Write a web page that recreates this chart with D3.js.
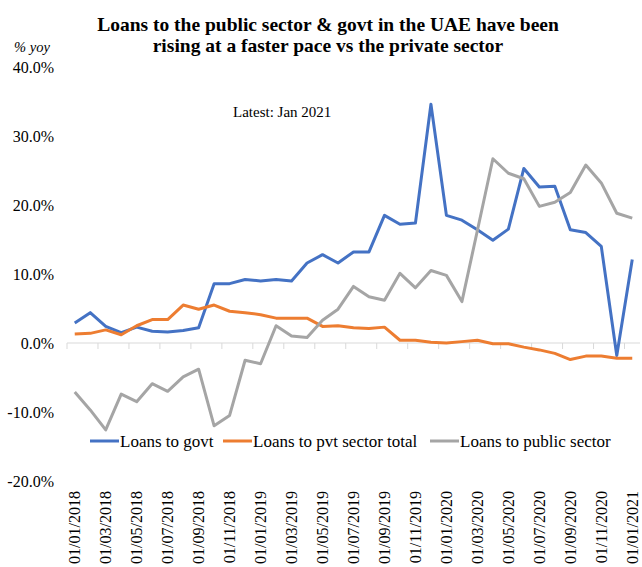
<!DOCTYPE html>
<html>
<head>
<meta charset="utf-8">
<script src="https://cdn.jsdelivr.net/npm/d3@7/dist/d3.min.js"></script>
<style>
  body { margin: 0; background: #fff; }
  svg { display: block; font-family: "Liberation Serif", "Times New Roman", serif; }
</style>
</head>
<body>
<svg id="chart" width="642" height="567"></svg>
<script>
// monthly dates, Jan 2018 .. Jan 2021
const months = [];
for (let y = 2018; y <= 2021; y++) {
  for (let m = 1; m <= 12; m++) {
    if (y === 2021 && m > 1) break;
    months.push(`01/${String(m).padStart(2, '0')}/${y}`);
  }
}

const govt = [2.9, 4.4, 2.4, 1.5, 2.3, 1.7, 1.6, 1.8, 2.2, 8.6, 8.6, 9.2, 9.0, 9.2, 9.0, 11.6, 12.8, 11.6, 13.2,
  13.2, 18.5, 17.2, 17.4, 34.6, 18.5, 17.8, 16.4, 14.9, 16.5, 25.3, 22.6, 22.7, 16.4, 16.0, 14.0, -1.8, 12.1];
const pvt = [1.3, 1.4, 1.9, 1.2, 2.5, 3.4, 3.4, 5.5, 4.9, 5.5, 4.6, 4.4, 4.1, 3.6, 3.6, 3.6, 2.4, 2.5, 2.2,
  2.1, 2.3, 0.4, 0.4, 0.1, 0.0, 0.2, 0.4, -0.1, -0.1, -0.6, -1.0, -1.5, -2.4, -1.9, -1.9, -2.2, -2.2];
const pub = [-7.1, -9.7, -12.6, -7.4, -8.5, -5.9, -7.0, -4.9, -3.8, -12.0, -10.5, -2.5, -3.0, 2.5, 1.0, 0.8, 3.3, 4.9, 8.2,
  6.7, 6.2, 10.1, 8.0, 10.5, 9.8, 6.0, 16.3, 26.7, 24.6, 23.8, 19.8, 20.4, 21.8, 25.8, 23.2, 18.8, 18.1];

const seriesNames = ['Loans to govt', 'Loans to pvt sector total', 'Loans to public sector'];
const seriesColors = ['#4472C4', '#ED7D31', '#A5A5A5'];
const yTicks = [40, 30, 20, 10, 0, -10, -20];

const svg = d3.select('#chart');

const x = d3.scaleBand().domain(months).range([67, 640]).padding(0);
const y = d3.scaleLinear().domain([-20, 40]).range([481, 67]);
const cx = d => x(d) + x.bandwidth() / 2;

// title
svg.append('text').attr('x', 328).attr('y', 31).attr('text-anchor', 'middle')
  .style('font-weight', 'bold').style('font-size', '19.5px')
  .text('Loans to the public sector & govt in the UAE have been');
svg.append('text').attr('x', 328).attr('y', 52).attr('text-anchor', 'middle')
  .style('font-weight', 'bold').style('font-size', '19.5px')
  .text('rising at a faster pace vs the private sector');

svg.append('text').attr('x', 32).attr('y', 52).attr('text-anchor', 'middle')
  .style('font-style', 'italic').style('font-size', '14.5px').text('% yoy');

// y labels
svg.append('g').selectAll('text').data(yTicks).enter().append('text')
  .attr('x', 54).attr('y', d => y(d)).attr('dy', '0.35em').attr('text-anchor', 'end')
  .style('font-size', '16px').text(d => d.toFixed(1) + '%');

// zero axis with tick marks between categories
const axis = svg.append('g').attr('transform', `translate(0,${y(0)})`);
axis.append('line').attr('x1', 67).attr('x2', 640).attr('stroke', '#d9d9d9').attr('stroke-width', 1);
axis.selectAll('.tk').data(months.filter((d, i) => i % 2 === 0)).enter().append('line')
  .attr('x1', d => x(d)).attr('x2', d => x(d)).attr('y1', 0).attr('y2', 6)
  .attr('stroke', '#d9d9d9').attr('stroke-width', 1);

// x labels
svg.append('g').selectAll('text').data(months.filter((d, i) => i % 2 === 0)).enter().append('text')
  .attr('transform', d => `translate(${cx(d)},491) rotate(-90)`)
  .attr('dy', '0.35em').attr('text-anchor', 'end')
  .style('font-size', '16px').text(d => d);

svg.append('text').attr('x', 233).attr('y', 117)
  .style('font-size', '15px').text('Latest: Jan 2021');

// lines
const line = d3.line().x((d, i) => cx(months[i])).y(d => y(d));
[govt, pvt, pub].forEach((s, k) => {
  svg.append('path').datum(s).attr('d', line).attr('fill', 'none')
    .attr('stroke', seriesColors[k]).attr('stroke-width', 3).attr('stroke-linejoin', 'round');
});

// legend
const legX = [90, 223, 430];
const leg = svg.append('g').selectAll('g').data(seriesNames).enter().append('g')
  .attr('transform', (d, i) => `translate(${legX[i]},441)`);
leg.append('line').attr('x1', 0).attr('x2', 29).attr('stroke', (d, i) => seriesColors[i]).attr('stroke-width', 3);
leg.append('text').attr('x', 30).attr('dy', '0.35em').style('font-size', '17px').text(d => d);
</script>
</body>
</html>
